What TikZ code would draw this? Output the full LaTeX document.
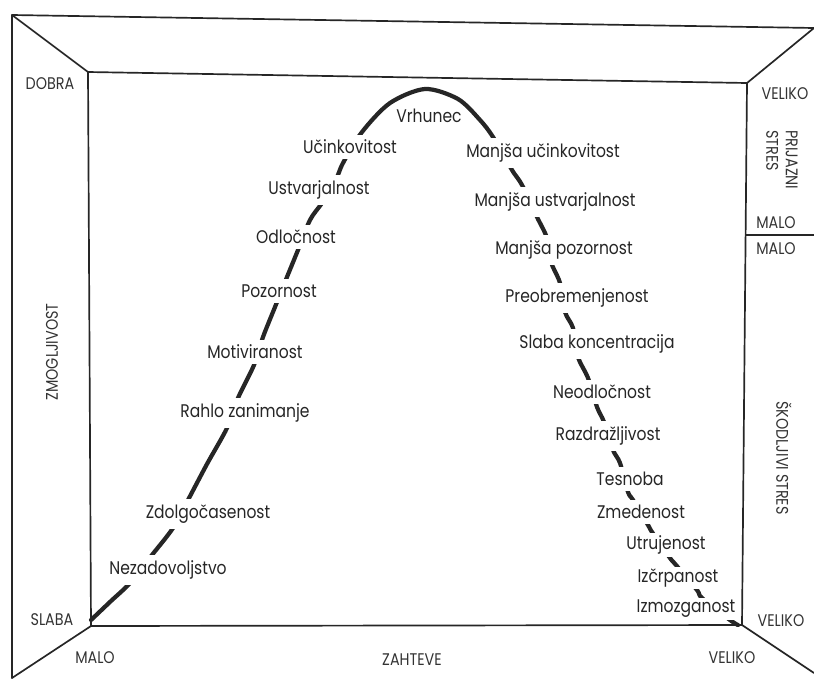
\documentclass[tikz,border=0pt]{standalone}
\usepackage{fontspec}
\setmainfont{Poppins}[FakeStretch=0.85]
\begin{document}
\begin{tikzpicture}[x=0.025cm, y=-0.025cm, line join=round, line cap=round,
	frame/.style={line width=1.2pt, black!85},
	curve/.style={line width=3pt, black!85},
	lbl/.style={fill=white, inner xsep=1pt, inner ysep=3.8pt, text=black!85, font=\fontsize{13}{15}\selectfont},
	axis/.style={inner sep=0pt, text=black!80, font=\fontsize{12}{14}\selectfont}]
	\useasboundingbox (0,0) rectangle (814,678);
	%	frame
	\coordinate (otl) at (12,15);
	\coordinate (otr) at (814,28);
	\coordinate (obl) at (12,678);
	\coordinate (obr) at (814,673);
	\coordinate (itl) at (88,72);
	\coordinate (itr) at (747,83);
	\coordinate (ibl) at (91,626);
	\coordinate (ibr) at (742,625);
	\coordinate (dl) at (746,235);
	\coordinate (dr) at (814,235);
	\draw[frame] (obl)--(otl)--(otr);
	\draw[frame] (otl)--(itl)--(itr)--(otr);
	\draw[frame] (itl)--(ibl)--(ibr)--(itr);
	\draw[frame] (ibl)--(obl);
	\draw[frame] (ibr)--(obr);
	\draw[frame] (dl)--(dr);
	%	curve
	\draw[curve] plot[smooth, tension=0.5] coordinates {(91,620) (111,601) (130,583) (152,555) (173,528) (188,500) (207,464) (227,428) (238,398) (254,365) (263,337) (275,307) (287,277) (298,250) (310,220) (322,203) (335,182) (343,163) (362,132) (390,103) (425,89) (458,99) (480,120) (493,137) (512,170) (522,185) (537,217) (547,238) (551,262) (560,283) (565,312) (573,328) (578,357) (588,378) (597,407) (604,422) (613,450) (620,463) (628,492) (633,500) (648,525) (652,532) (670,558) (676,565) (697,590) (702,598) (730,620) (738,625)};
	%	rising side
	\node[lbl, fill=none] (vrh) at (429,116) {Vrhunec};
	\node[lbl] (uci) at (350,147) {Učinkovitost};
	\node[lbl] (ust) at (319,190) {Ustvarjalnost};
	\node[lbl] (odl) at (296,237) {Odločnost};
	\node[lbl] (poz) at (279,291) {Pozornost};
	\node[lbl] (mot) at (255,352) {Motiviranost};
	\node[lbl] (rah) at (245,413) {Rahlo zanimanje};
	\node[lbl] (zdo) at (208,514) {Zdolgočasenost};
	\node[lbl] (nez) at (168,570) {Nezadovoljstvo};
	%	falling side
	\node[lbl] (muc) at (543,153) {Manjša učinkovitost};
	\node[lbl] (mus) at (555,202) {Manjša ustvarjalnost};
	\node[lbl] (mpo) at (564,250) {Manjša pozornost};
	\node[lbl] (pre) at (577,298) {Preobremenjenost};
	\node[lbl] (kon) at (597,344) {Slaba koncentracija};
	\node[lbl] (neo) at (602,392) {Neodločnost};
	\node[lbl] (raz) at (608,436) {Razdražljivost};
	\node[lbl] (tes) at (630,479) {Tesnoba};
	\node[lbl] (zme) at (641,512) {Zmedenost};
	\node[lbl, inner ysep=2pt] (utr) at (666,545) {Utrujenost};
	\node[lbl, inner ysep=1.5pt] (izc) at (678,578) {Izčrpanost};
	\node[lbl, inner ysep=1.5pt] (izm) at (686,609) {Izmozganost};
	%	axes
	\node[axis] (dob) at (50,84) {DOBRA};
	\node[axis] (sla) at (52,620) {SLABA};
	\node[axis, rotate=90] (zmo) at (52,352) {ZMOGLJIVOST};
	\node[axis] (mal) at (95,658) {MALO};
	\node[axis] (zah) at (412,660) {ZAHTEVE};
	\node[axis] (vel) at (732,658) {VELIKO};
	\node[axis] (vtr) at (785,94) {VELIKO};
	\node[axis, rotate=-90, align=left, anchor=north west] (pri) at (798,130) {PRIJAZNI\\STRES};
	\node[axis] (mzg) at (776,223) {MALO};
	\node[axis] (msp) at (776,249) {MALO};
	\node[axis, rotate=-90] (sko) at (784,458) {ŠKODLJIVI STRES};
	\node[axis] (vbr) at (781,621) {VELIKO};
\end{tikzpicture}
\end{document}
